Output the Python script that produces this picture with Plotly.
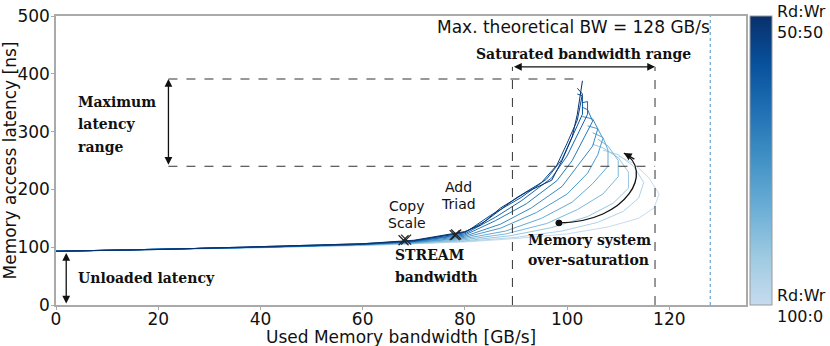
import plotly.graph_objects as go
from plotly.colors import sample_colorscale

# Rd:Wr traffic mixes, from 100:0 (light) to 50:50 (dark)
mix_level = [0, 1, 2, 3, 4, 5, 6, 7, 8, 9, 10, 11]

bandwidth = [
    [0, 20, 40, 60, 70, 80, 90, 100, 108, 114, 117, 118, 116, 113, 110],
    [0, 20, 40, 60, 70, 80, 90, 99, 106, 111, 114, 115, 113, 110, 107],
    [0, 20, 40, 60, 70, 80, 89, 97, 104, 109, 112, 112, 110, 107, 105],
    [0, 20, 40, 60, 70, 80, 88, 96, 102, 107, 110, 110, 108, 106],
    [0, 20, 40, 60, 70, 80, 88, 95, 101, 105, 108, 108, 107, 105],
    [0, 20, 40, 60, 70, 80, 87, 94, 100, 104, 106, 107, 106, 104],
    [0, 20, 40, 60, 70, 80, 87, 93, 99, 102, 105, 106, 105, 103],
    [0, 20, 40, 60, 70, 80, 86, 92, 98, 101, 103, 105, 104, 103],
    [0, 20, 40, 60, 70, 80, 86, 91, 97, 100, 102, 104, 104, 103],
    [0, 20, 40, 60, 70, 80, 85, 91, 96, 99, 101, 103, 103, 102],
    [0, 20, 40, 60, 70, 80, 84, 90, 95, 98, 100, 102, 103, 102],
    [0, 20, 40, 60, 70, 80, 83, 87, 92, 97, 99, 101, 102, 103],
]
latency = [
    [93, 96, 99, 103, 106, 109, 115, 123, 135, 150, 168, 192, 220, 245, 258],
    [93, 96, 99, 103, 106, 110, 117, 128, 143, 162, 185, 212, 240, 260, 268],
    [93, 96, 99, 104, 107, 111, 120, 134, 153, 176, 202, 230, 255, 272, 278],
    [93, 96, 100, 104, 107, 113, 123, 141, 165, 192, 222, 250, 275, 287],
    [93, 96, 100, 104, 108, 115, 128, 150, 178, 210, 240, 268, 290, 298],
    [93, 96, 100, 105, 108, 117, 133, 160, 192, 228, 260, 288, 305, 310],
    [93, 96, 100, 105, 109, 119, 140, 168, 205, 240, 275, 305, 322, 326],
    [93, 96, 100, 105, 110, 121, 146, 175, 215, 250, 285, 318, 338, 342],
    [93, 96, 100, 105, 110, 123, 152, 180, 220, 258, 295, 330, 352, 350],
    [93, 96, 100, 105, 111, 125, 155, 186, 218, 252, 290, 330, 362, 365],
    [93, 96, 101, 106, 111, 126, 145, 185, 212, 242, 280, 320, 365, 375],
    [93, 96, 101, 106, 112, 127, 138, 168, 195, 216, 250, 291, 330, 388],
]

stream_kernels = ["Copy", "Scale", "Add", "Triad"]
stream_bw = [68.0, 68.5, 78.0, 78.3]
stream_lat = [112, 113, 121, 122]

max_bw = 128

blues = [
    [0.0, "#c6dbef"], [1 / 6, "#9ecae1"], [2 / 6, "#6baed6"], [3 / 6, "#4292c6"],
    [4 / 6, "#2171b5"], [5 / 6, "#08519c"], [1.0, "#08306b"],
]

SANS = "DejaVu Sans"
SERIF = "DejaVu Serif"

fig = go.Figure()

n = len(mix_level) - 1
for lvl, bw, lat in zip(mix_level, bandwidth, latency):
    col = sample_colorscale(blues, [lvl / n])[0]
    fig.add_trace(go.Scatter(
        x=bw, y=lat, mode="lines", line=dict(color=col, width=1),
        showlegend=False, hoverinfo="skip",
    ))

fig.add_trace(go.Scatter(
    x=stream_bw, y=stream_lat, mode="markers", text=stream_kernels,
    marker=dict(symbol="x-thin", size=10, line=dict(color="#222", width=1.2)),
    showlegend=False,
))

# dummy trace for the colour bar
fig.add_trace(go.Scatter(
    x=[None], y=[None], mode="markers", showlegend=False,
    marker=dict(
        color=[0], cmin=0, cmax=1, colorscale=blues, showscale=True,
        colorbar=dict(
            x=1.006, xanchor="left", y=0.5, yanchor="middle", len=1,
            thickness=22, outlinewidth=1, outlinecolor="#999",
            showticklabels=False, ticks="", xpad=0, ypad=0,
        ),
    ),
))

dash = dict(color="#333", width=1, dash="dash")
fig.add_shape(type="line", x0=22, x1=103, y0=391, y1=391, line=dash)
fig.add_shape(type="line", x0=22, x1=117.2, y0=240, y1=240, line=dash)
fig.add_shape(type="line", x0=89.3, x1=89.3, y0=0, y1=412, line=dash)
fig.add_shape(type="line", x0=117.2, x1=117.2, y0=0, y1=412, line=dash)
fig.add_shape(type="line", x0=max_bw, x1=max_bw, y0=0, y1=500,
              line=dict(color="#4a90c8", width=1, dash="dot"))

# curved over-saturation arrow
fig.add_shape(type="path", path="M 98.4,142 C 112.1,143.6 117,233.6 111.1,263",
              line=dict(color="#111", width=1.3))
fig.add_shape(type="circle", x0=97.8, x1=99.0, y0=137, y1=147,
              fillcolor="#111", line=dict(color="#111", width=1))


def darrow(x0, y0, x1, y1):
    fig.add_annotation(x=x1, y=y1, ax=x0, ay=y0, axref="x", ayref="y",
                       xref="x", yref="y", text="", showarrow=True,
                       arrowhead=2, arrowside="end+start", arrowsize=1.2,
                       arrowwidth=1.3, arrowcolor="#111")


darrow(22, 240, 22, 391)
darrow(89.3, 412, 117.2, 412)
darrow(2, 0, 2, 90)

fig.add_annotation(x=111.1, y=263, ax=12, ay=7, text="", showarrow=True,
                   arrowhead=2, arrowsize=1.2, arrowwidth=1.3, arrowcolor="#111")


def label(x, y, lines, font, size, step, xanchor="left"):
    # one annotation per line so the line spacing can follow the reference
    k = len(lines)
    for i, line in enumerate(lines):
        fig.add_annotation(x=x, y=y, text=line, showarrow=False,
                           xanchor=xanchor, yanchor="middle",
                           yshift=((k - 1) / 2 - i) * step,
                           font=dict(family=font, size=size, color="#111"))


label(4, 313, ["<b>Maximum</b>", "<b>latency</b>", "<b>range</b>"], SERIF, 14, 22.5)
label(4, 47, ["<b>Unloaded latency</b>"], SERIF, 14, 22)
label(66, 67, ["<b>STREAM</b>", "<b>bandwidth</b>"], SERIF, 14, 22)
label(92, 95, ["<b>Memory system</b>", "<b>over-saturation</b>"], SERIF, 14, 19.5)
label(103.3, 434, ["<b>Saturated bandwidth range</b>"], SERIF, 14, 20, "center")
label(68.7, 157, ["Copy", "Scale"], SANS, 14, 17, "center")
label(78.7, 190, ["Add", "Triad"], SANS, 14, 17, "center")
label(128.4, 481, ["Max. theoretical BW = 128 GB/s"], SANS, 17, 18, "right")

for ypos, shift, txt in [(1.0, 16, "Rd:Wr<br>50:50"), (0.03, 12, "Rd:Wr<br>100:0")]:
    fig.add_annotation(x=1.042, y=ypos, xref="paper", yref="paper", text=txt,
                       showarrow=False, align="left", xanchor="left", yanchor="top",
                       yshift=shift, font=dict(family=SANS, size=16, color="#111"))

fig.add_annotation(x=0.5, y=0, xref="paper", yref="paper", yshift=-32,
                   text="Used Memory bandwidth [GB/s]", showarrow=False,
                   xanchor="center", yanchor="middle",
                   font=dict(family=SANS, size=17, color="#111"))
fig.add_annotation(x=0, y=0.5, xref="paper", yref="paper", xshift=-47,
                   text="Memory access latency [ns]", showarrow=False,
                   textangle=-90, xanchor="center", yanchor="middle",
                   font=dict(family=SANS, size=17, color="#111"))

axis = dict(showline=True, mirror=True, linecolor="#aaa", linewidth=1.5,
            showgrid=False, zeroline=False, ticks="outside", ticklen=3,
            tickcolor="#aaa", tickfont=dict(family=SANS, size=17, color="#111"))

fig.update_layout(
    width=830, height=346,
    margin=dict(l=56, r=84, t=16, b=41, autoexpand=False),
    plot_bgcolor="white", paper_bgcolor="white",
    xaxis=dict(axis, range=[0, 135], dtick=20, ticklabelstandoff=-5),
    yaxis=dict(axis, range=[0, 500], dtick=100, ticklabelstandoff=-2),
)

# drop the default page margin so the figure sits at the window's corner
fig.write_html("out.html", config={"displayModeBar": False},
               post_script="document.body.style.margin = '0';")
